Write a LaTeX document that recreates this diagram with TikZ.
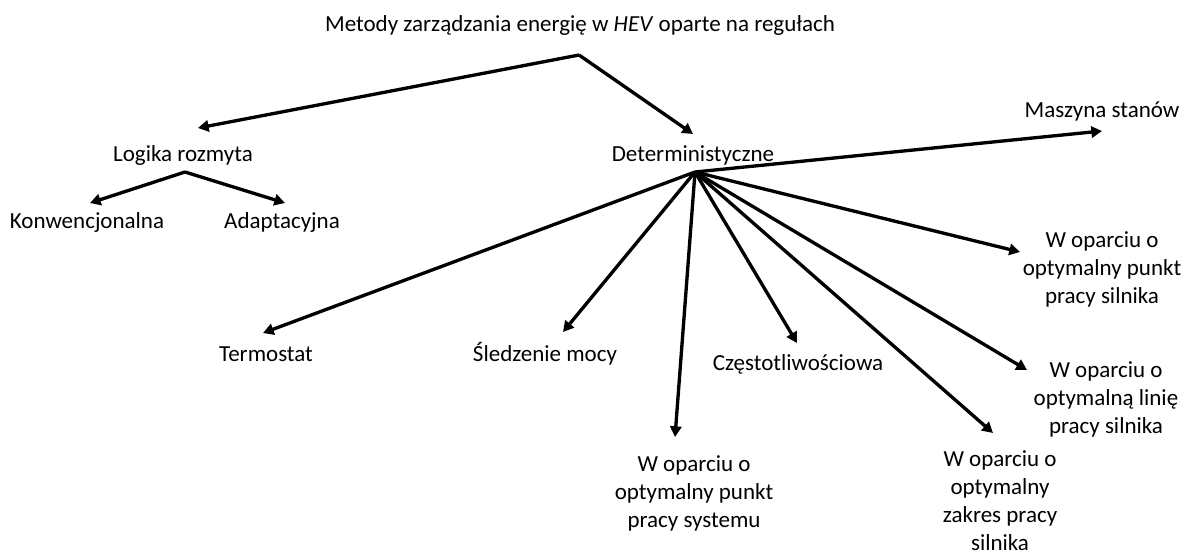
\documentclass[tikz,border=0pt]{standalone}
\usepackage{fontspec}
\setmainfont{Carlito}
\usetikzlibrary{arrows.meta}
\begin{document}
\begin{tikzpicture}[x=0.75pt,y=-0.75pt,
  lbl/.style={anchor=base,inner sep=0pt,outer sep=0pt,align=center,
    font=\fontsize{17.25pt}{20.8pt}\selectfont},
  link/.style={line width=2.5pt,-{Triangle[length=8pt,width=8.5pt]},line join=miter}]
\useasboundingbox (0,0) rectangle (1186,554);

% labels (multi-line labels are placed by the baseline of their last line)
\node[lbl] (root) at (580,31) {Metody zarządzania energię w \textit{HEV} oparte na regułach};
\node[lbl] (fuzzy) at (183,161) {Logika rozmyta};
\node[lbl] (det) at (693,161) {Deterministyczne};
\node[lbl] (conv) at (87,228) {Konwencjonalna};
\node[lbl] (adapt) at (282,228) {Adaptacyjna};
\node[lbl] (fsm) at (1102,117) {Maszyna stanów};
\node[lbl] (eop) at (1102,303) {W oparciu o\\optymalny punkt\\pracy silnika};
\node[lbl] (eol) at (1106,433) {W oparciu o\\optymalną linię\\pracy silnika};
\node[lbl] (eor) at (1000,550) {W oparciu o\\optymalny\\zakres pracy\\silnika};
\node[lbl] (sop) at (694,527) {W oparciu o\\optymalny punkt\\pracy systemu};
\node[lbl] (thermo) at (266,361) {Termostat};
\node[lbl] (pft) at (545,361) {Śledzenie mocy};
\node[lbl] (freq) at (798,370) {Częstotliwościowa};

% branching points and arrow ends
\coordinate (rootHub) at (579,55);
\coordinate (fuzzyHub) at (185,172);
\coordinate (detHub) at (695,172);
\coordinate (fuzzyIn) at (198,128);
\coordinate (detIn) at (693,134);
\coordinate (convIn) at (90,203);
\coordinate (adaptIn) at (285,203);
\coordinate (fsmIn) at (1102,131);
\coordinate (eopIn) at (1020,252);
\coordinate (eolIn) at (1027,370);
\coordinate (eorIn) at (993,433);
\coordinate (sopIn) at (675,437);
\coordinate (thermoIn) at (263,333);
\coordinate (pftIn) at (563,332);
\coordinate (freqIn) at (797,343);

% connectors
\draw[link] (rootHub) -- (fuzzyIn);
\draw[link] (rootHub) -- (detIn);
\draw[link] (fuzzyHub) -- (convIn);
\draw[link] (fuzzyHub) -- (adaptIn);
\foreach \t in {fsmIn,eopIn,eolIn,eorIn,sopIn,thermoIn,pftIn,freqIn}
  \draw[link] (detHub) -- (\t);
\end{tikzpicture}
\end{document}
